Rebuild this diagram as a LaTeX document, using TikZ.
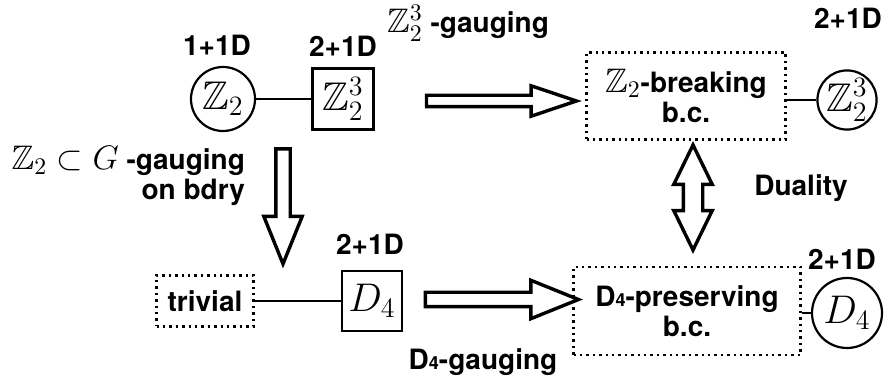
\documentclass[tikz,border=0pt]{standalone}
\usepackage{fix-cm}
\usepackage{amsmath, amssymb}
\usepackage[no-math]{fontspec}
\setmainfont{TeX Gyre Heros}
\usepackage{tikz}
\usetikzlibrary{shapes.arrows, positioning}

\newcommand{\lblfont}{\fontsize{14}{15}\selectfont\bfseries}
\newcommand{\symfont}{\fontsize{20}{24}\selectfont}
\newcommand{\bigmath}[1]{{\fontsize{17}{20}\selectfont$#1$}}
\newcommand{\Dfour}{D{\fontsize{9}{9}\selectfont 4}}

\begin{document}
\begin{tikzpicture}[x=0.5pt, y=0.5pt,
  circ/.style={circle, draw, line width=1.1pt, inner sep=0pt, font=\symfont},
  sqbox/.style={rectangle, draw, line width=1.1pt, inner sep=0pt, font=\symfont},
  bcbox/.style={rectangle, draw, dotted, line width=1.2pt, align=center, inner sep=0pt, font=\lblfont},
  dimlab/.style={font=\lblfont},
  link/.style={line width=0.9pt},
  fatarrow/.style={single arrow, draw, line width=1.7pt, inner sep=0pt, single arrow head indent=0pt}]
  \useasboundingbox (0,0) rectangle (887,379);

  % Top row
  \node[circ, minimum size=32pt] (z2) at (223,280) {$\mathbb{Z}_2$};
  \node[sqbox, minimum size=30.5pt] (sq) at (343,280) {$\mathbb{Z}_2^3$};
  \node[dimlab] (dim1) at (217,334) {1+1D};
  \node[dimlab] (dim2) at (343,333) {2+1D};
  \draw[link] (z2) -- (sq);

  \node[fatarrow, minimum height=75pt, inner ysep=2pt, single arrow head extend=4.75pt,
    single arrow tip angle=37] (gtop) at (493,278) {};
  \node[dimlab] (gtoplab) at (468,356) {\bigmath{\mathbb{Z}_2^3} -gauging};

  \node[bcbox, minimum width=99.5pt, minimum height=43.5pt] (brk) at (686,283)
    {\bigmath{\mathbb{Z}_2}-breaking\\b.c.};
  \node[circ, minimum size=29pt] (z23r) at (847,279) {$\mathbb{Z}_2^3$};
  \node[dimlab] (dim3) at (848,361) {2+1D};
  \draw[link] (brk.east |- z23r) -- (z23r);

  % Duality
  \node[double arrow, draw, line width=1.7pt, inner sep=0pt, inner ysep=4pt,
    double arrow head extend=4.75pt, double arrow tip angle=52,
    minimum height=52.5pt, rotate=90] (dual) at (693,181.5) {};
  \node[dimlab] (duallab) at (801,191) {Duality};

  % Boundary gauging
  \node[fatarrow, minimum height=57.5pt, inner ysep=2.75pt, single arrow head extend=6pt,
    single arrow tip angle=44, rotate=-90] (gdown) at (283,181.5) {};
  \node[dimlab, align=right, anchor=east] (gdownlab) at (252,203)
    {\bigmath{\mathbb{Z}_2\subset G} -gauging\\on bdry};

  % Bottom row
  \node[bcbox, minimum width=48.5pt, minimum height=25.5pt] (triv) at (205,78) {trivial};
  \node[sqbox, minimum size=30pt] (d4) at (372,78) {$D_4$};
  \node[dimlab] (dim4) at (370,135) {2+1D};
  \draw[link] (triv) -- (d4);

  \node[fatarrow, minimum height=76.5pt, inner ysep=2.75pt, single arrow head extend=6pt,
    single arrow tip angle=44] (gbot) at (493,79.5) {};
  \node[dimlab] (gbotlab) at (483,17) {\Dfour-gauging};

  \node[bcbox, minimum width=113.5pt, minimum height=44pt] (pres) at (687,68)
    {\Dfour-preserving\\b.c.};
  \node[circ, minimum size=35pt] (d4r) at (847,66) {$D_4$};
  \node[dimlab] (dim5) at (842,120) {2+1D};
  \draw[link] (pres.east |- d4r) -- (d4r);
\end{tikzpicture}
\end{document}
